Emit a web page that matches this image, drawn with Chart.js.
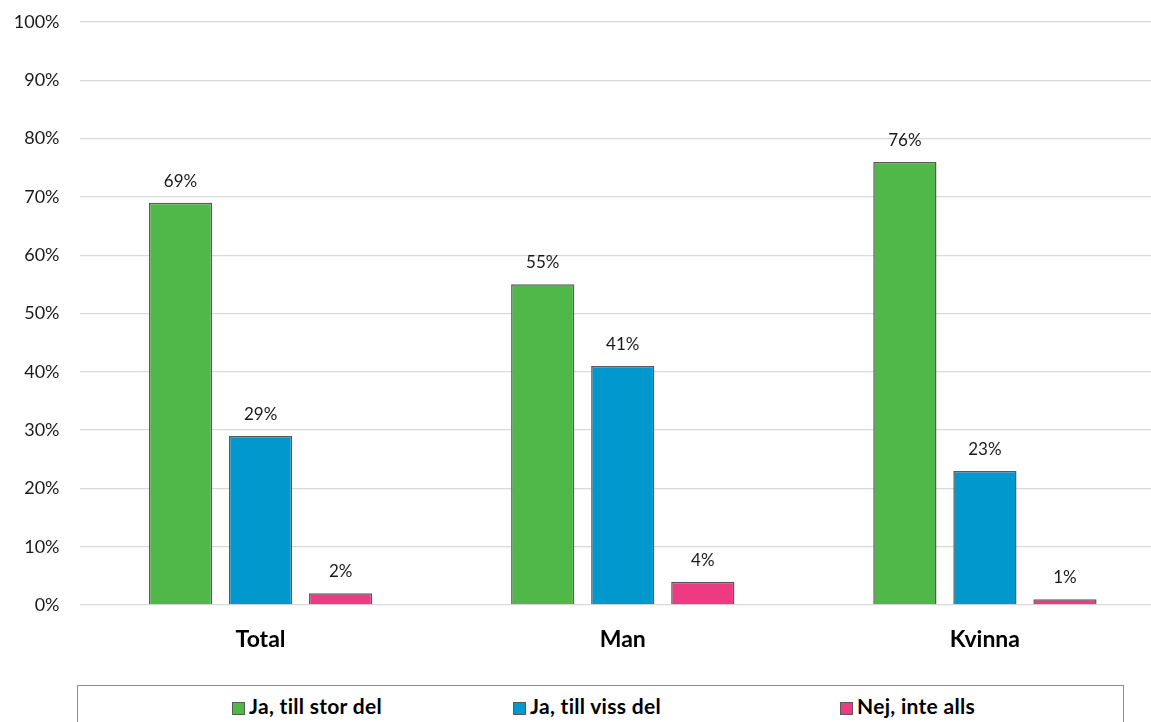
<!DOCTYPE html>
<html>
<head>
<meta charset="utf-8">
<script src="https://cdn.jsdelivr.net/npm/chart.js@4/dist/chart.umd.min.js"></script>
<style>
    html, body { margin: 0; padding: 0; background: #fff; overflow: hidden; width: 1151px; height: 722px; }
    .chart-box { position: absolute; left: 0; top: 0; width: 1166px; height: 670px; }
    .legend { position: absolute; left: 77px; top: 685px; width: 1047px; height: 60px; border: 1px solid #8c8c8c; box-sizing: border-box; font-family: Lato, sans-serif; }
    .legend-item { position: absolute; top: 7px; font-weight: bold; font-size: 21px; letter-spacing: 0.3px; color: #000; white-space: nowrap; }
    .legend-item span { display: inline-block; width: 11px; height: 11px; border: 1px solid #5a5a5a; margin-right: 4px; vertical-align: -1px; }
</style>
</head>
<body>
<div class="chart-box"><canvas id="barChart"></canvas></div>
<div class="legend" id="legend"></div>
<script>
(function () {
    var categories = ['Total', 'Man', 'Kvinna'];
    var seriesNames = ['Ja, till stor del', 'Ja, till viss del', 'Nej, inte alls'];
    var storDel = [69, 55, 76];
    var vissDel = [29, 41, 23];
    var inteAlls = [2, 4, 1];
    var yTicks = [0, 10, 20, 30, 40, 50, 60, 70, 80, 90, 100];

    var colors = ['#50B848', '#0098CD', '#EE3A80'];
    var legendLeft = [154, 435, 762];

    var valueLabels = {
        id: 'valueLabels',
        afterDatasetsDraw: function (chart) {
            var ctx = chart.ctx;
            ctx.save();
            ctx.font = '17px Lato';
            ctx.fillStyle = '#1a1a1a';
            ctx.textAlign = 'center';
            ctx.textBaseline = 'alphabetic';
            chart.data.datasets.forEach(function (ds, i) {
                var meta = chart.getDatasetMeta(i);
                meta.data.forEach(function (bar, j) {
                    ctx.fillText(ds.data[j] + '%', bar.x, bar.y - 16);
                });
            });
            ctx.restore();
        }
    };

    var ctx = document.getElementById('barChart').getContext('2d');
    var chart = new Chart(ctx, {
        type: 'bar',
        data: {
            labels: categories,
            datasets: [storDel, vissDel, inteAlls].map(function (d, i) {
                return {
                    label: seriesNames[i],
                    data: d,
                    backgroundColor: colors[i],
                    borderColor: '#5a5a5a',
                    borderWidth: 1.5,
                    barPercentage: 0.79,
                    categoryPercentage: 0.663
                };
            })
        },
        options: {
            responsive: true,
            maintainAspectRatio: false,
            animation: false,
            layout: { padding: { top: 22, left: 0, right: 0, bottom: 0 } },
            plugins: {
                legend: { display: false },
                tooltip: { enabled: false }
            },
            scales: {
                x: {
                    grid: { display: false, drawTicks: false },
                    border: { display: false },
                    ticks: {
                        padding: 21,
                        color: '#000',
                        font: { family: 'Lato', size: 23, weight: 'bold' }
                    },
                    afterFit: function (scale) { scale.height = 65; }
                },
                y: {
                    min: 0,
                    max: 100,
                    afterBuildTicks: function (scale) {
                        scale.ticks = yTicks.map(function (v) { return { value: v }; });
                    },
                    grid: { color: '#d9d9d9', lineWidth: 1.3, drawTicks: false },
                    border: { display: false },
                    ticks: {
                        padding: 20,
                        color: '#1a1a1a',
                        font: { family: 'Lato', size: 18 },
                        callback: function (v) { return v + '%'; }
                    },
                    afterFit: function (scale) {
                        scale.width = 79.5;
                        scale.paddingTop = 0;
                        scale.paddingBottom = 0;
                    }
                }
            }
        },
        plugins: [valueLabels]
    });

    var legend = document.getElementById('legend');
    chart.data.datasets.forEach(function (ds, i) {
        var item = document.createElement('div');
        item.className = 'legend-item';
        item.style.left = legendLeft[i] + 'px';
        item.innerHTML = '<span style="background:' + ds.backgroundColor + '"></span>' + ds.label;
        legend.appendChild(item);
    });
})();
</script>
</body>
</html>
